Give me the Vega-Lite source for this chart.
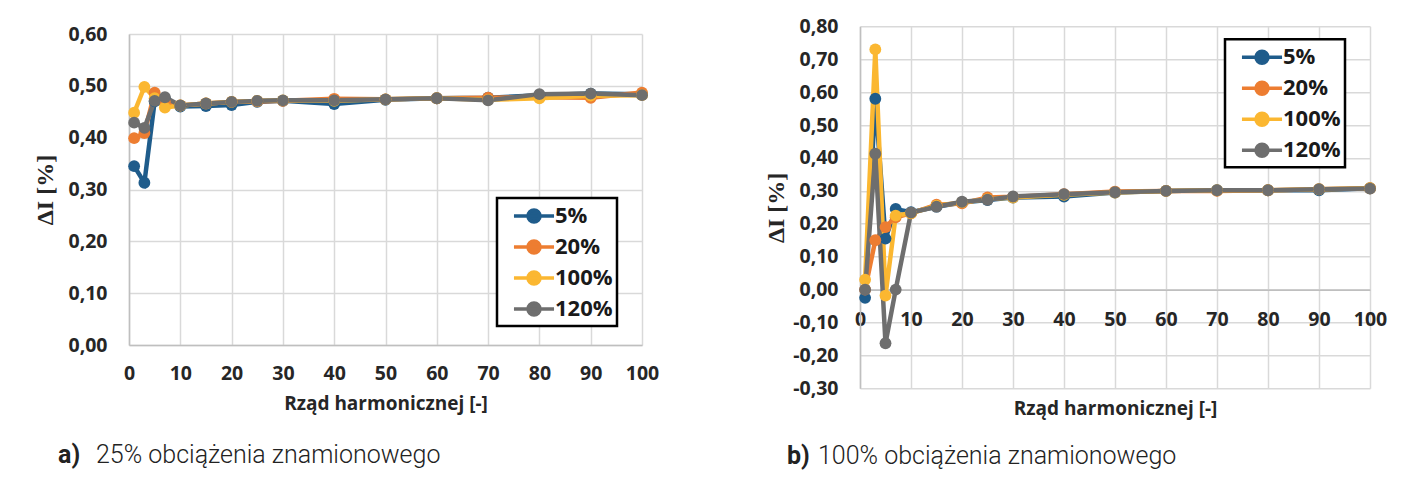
{
  "$schema": "https://vega.github.io/schema/vega-lite/v6.json",
  "background": "white",
  "padding": {"left": 33, "top": 16, "right": 5, "bottom": 5},
  "config": {
    "locale": {"number": {"decimal": ",", "thousands": " ", "grouping": [3], "currency": ["", ""], "minus": "-"}},
    "view": {"stroke": null},
    "axis": {
      "labelFont": "Open Sans", "labelFontWeight": "bold", "labelFontSize": 19.5, "labelColor": "#262626",
      "titleFont": "Open Sans", "titleFontWeight": "bold", "titleFontSize": 19, "titleColor": "#262626",
      "gridColor": "#d9d9d9", "gridWidth": 1.5, "domainColor": "#bfbfbf", "domainWidth": 1.5, "ticks": false
    },
    "legend": {
      "labelFont": "Open Sans", "labelFontWeight": "bold", "labelFontSize": 22, "labelColor": "#1a1a1a",
      "symbolType": "M-1.67,0L1.67,0M-0.5,0A0.5,0.5,0,1,1,0.5,0A0.5,0.5,0,1,1,-0.5,0Z",
      "symbolSize": 576, "symbolStrokeWidth": 3.5, "symbolOffset": 19, "labelOffset": 7,
      "fillColor": "white", "strokeColor": "black", "padding": 4, "rowPadding": 4
    },
    "title": {"font": "Roboto", "fontWeight": 300, "fontSize": 25, "color": "#222222", "anchor": "start"}
  },
  "datasets": {
    "a": [
      {"s": "5%", "h": 1, "v": 0.345}, {"s": "5%", "h": 3, "v": 0.313}, {"s": "5%", "h": 5, "v": 0.47}, {"s": "5%", "h": 7, "v": 0.475},
      {"s": "5%", "h": 10, "v": 0.46}, {"s": "5%", "h": 15, "v": 0.461}, {"s": "5%", "h": 20, "v": 0.463}, {"s": "5%", "h": 25, "v": 0.469},
      {"s": "5%", "h": 30, "v": 0.471}, {"s": "5%", "h": 40, "v": 0.465}, {"s": "5%", "h": 50, "v": 0.473}, {"s": "5%", "h": 60, "v": 0.476},
      {"s": "5%", "h": 70, "v": 0.477}, {"s": "5%", "h": 80, "v": 0.482}, {"s": "5%", "h": 90, "v": 0.485}, {"s": "5%", "h": 100, "v": 0.484},
      {"s": "20%", "h": 1, "v": 0.399}, {"s": "20%", "h": 3, "v": 0.409}, {"s": "20%", "h": 5, "v": 0.487}, {"s": "20%", "h": 7, "v": 0.47},
      {"s": "20%", "h": 10, "v": 0.462}, {"s": "20%", "h": 15, "v": 0.466}, {"s": "20%", "h": 20, "v": 0.469}, {"s": "20%", "h": 25, "v": 0.47},
      {"s": "20%", "h": 30, "v": 0.471}, {"s": "20%", "h": 40, "v": 0.475}, {"s": "20%", "h": 50, "v": 0.474}, {"s": "20%", "h": 60, "v": 0.476},
      {"s": "20%", "h": 70, "v": 0.477}, {"s": "20%", "h": 80, "v": 0.478}, {"s": "20%", "h": 90, "v": 0.477}, {"s": "20%", "h": 100, "v": 0.487},
      {"s": "100%", "h": 1, "v": 0.448}, {"s": "100%", "h": 3, "v": 0.498}, {"s": "100%", "h": 5, "v": 0.476}, {"s": "100%", "h": 7, "v": 0.458},
      {"s": "100%", "h": 10, "v": 0.462}, {"s": "100%", "h": 15, "v": 0.466}, {"s": "100%", "h": 20, "v": 0.469}, {"s": "100%", "h": 25, "v": 0.471},
      {"s": "100%", "h": 30, "v": 0.472}, {"s": "100%", "h": 40, "v": 0.471}, {"s": "100%", "h": 50, "v": 0.474}, {"s": "100%", "h": 60, "v": 0.476},
      {"s": "100%", "h": 70, "v": 0.473}, {"s": "100%", "h": 80, "v": 0.476}, {"s": "100%", "h": 90, "v": 0.481}, {"s": "100%", "h": 100, "v": 0.482},
      {"s": "120%", "h": 1, "v": 0.429}, {"s": "120%", "h": 3, "v": 0.419}, {"s": "120%", "h": 5, "v": 0.471}, {"s": "120%", "h": 7, "v": 0.478},
      {"s": "120%", "h": 10, "v": 0.462}, {"s": "120%", "h": 15, "v": 0.466}, {"s": "120%", "h": 20, "v": 0.469}, {"s": "120%", "h": 25, "v": 0.471},
      {"s": "120%", "h": 30, "v": 0.472}, {"s": "120%", "h": 40, "v": 0.472}, {"s": "120%", "h": 50, "v": 0.474}, {"s": "120%", "h": 60, "v": 0.476},
      {"s": "120%", "h": 70, "v": 0.472}, {"s": "120%", "h": 80, "v": 0.484}, {"s": "120%", "h": 90, "v": 0.485}, {"s": "120%", "h": 100, "v": 0.482}
    ],
    "b": [
      {"s": "5%", "h": 1, "v": -0.025}, {"s": "5%", "h": 3, "v": 0.58}, {"s": "5%", "h": 5, "v": 0.155}, {"s": "5%", "h": 7, "v": 0.245},
      {"s": "5%", "h": 10, "v": 0.235}, {"s": "5%", "h": 15, "v": 0.252}, {"s": "5%", "h": 20, "v": 0.265}, {"s": "5%", "h": 25, "v": 0.272},
      {"s": "5%", "h": 30, "v": 0.28}, {"s": "5%", "h": 40, "v": 0.283}, {"s": "5%", "h": 50, "v": 0.295}, {"s": "5%", "h": 60, "v": 0.3},
      {"s": "5%", "h": 70, "v": 0.302}, {"s": "5%", "h": 80, "v": 0.302}, {"s": "5%", "h": 90, "v": 0.302}, {"s": "5%", "h": 100, "v": 0.308},
      {"s": "20%", "h": 1, "v": 0.0}, {"s": "20%", "h": 3, "v": 0.15}, {"s": "20%", "h": 5, "v": 0.19}, {"s": "20%", "h": 7, "v": 0.22},
      {"s": "20%", "h": 10, "v": 0.232}, {"s": "20%", "h": 15, "v": 0.258}, {"s": "20%", "h": 20, "v": 0.262}, {"s": "20%", "h": 25, "v": 0.28},
      {"s": "20%", "h": 30, "v": 0.282}, {"s": "20%", "h": 40, "v": 0.29}, {"s": "20%", "h": 50, "v": 0.298}, {"s": "20%", "h": 60, "v": 0.3},
      {"s": "20%", "h": 70, "v": 0.3}, {"s": "20%", "h": 80, "v": 0.302}, {"s": "20%", "h": 90, "v": 0.305}, {"s": "20%", "h": 100, "v": 0.308},
      {"s": "100%", "h": 1, "v": 0.03}, {"s": "100%", "h": 3, "v": 0.73}, {"s": "100%", "h": 5, "v": -0.018}, {"s": "100%", "h": 7, "v": 0.225},
      {"s": "100%", "h": 10, "v": 0.232}, {"s": "100%", "h": 15, "v": 0.255}, {"s": "100%", "h": 20, "v": 0.265}, {"s": "100%", "h": 25, "v": 0.275},
      {"s": "100%", "h": 30, "v": 0.28}, {"s": "100%", "h": 40, "v": 0.288}, {"s": "100%", "h": 50, "v": 0.295}, {"s": "100%", "h": 60, "v": 0.3},
      {"s": "100%", "h": 70, "v": 0.302}, {"s": "100%", "h": 80, "v": 0.302}, {"s": "100%", "h": 90, "v": 0.305}, {"s": "100%", "h": 100, "v": 0.308},
      {"s": "120%", "h": 1, "v": 0.0}, {"s": "120%", "h": 3, "v": 0.413}, {"s": "120%", "h": 5, "v": -0.163}, {"s": "120%", "h": 7, "v": 0.0},
      {"s": "120%", "h": 10, "v": 0.234}, {"s": "120%", "h": 15, "v": 0.252}, {"s": "120%", "h": 20, "v": 0.267}, {"s": "120%", "h": 25, "v": 0.273},
      {"s": "120%", "h": 30, "v": 0.283}, {"s": "120%", "h": 40, "v": 0.29}, {"s": "120%", "h": 50, "v": 0.296}, {"s": "120%", "h": 60, "v": 0.3},
      {"s": "120%", "h": 70, "v": 0.302}, {"s": "120%", "h": 80, "v": 0.302}, {"s": "120%", "h": 90, "v": 0.305}, {"s": "120%", "h": 100, "v": 0.307}
    ]
  },
  "resolve": {"legend": {"color": "independent"}},
  "center": true,
  "spacing": 105,
  "hconcat": [
    {
      "title": {"text": "25% obciążenia znamionowego", "orient": "bottom", "frame": "group", "dx": -33, "offset": -25},
      "resolve": {"legend": {"color": "independent"}},
      "vconcat": [
        {
          "data": {"name": "a"},
          "width": 513,
          "height": 311,
          "title": {"text": "a)", "orient": "bottom", "fontWeight": "bold", "frame": "group", "dx": -71, "offset": 30},
          "mark": {"type": "line", "strokeWidth": 4.5, "point": {"filled": true, "size": 140}},
          "encoding": {
            "x": {"field": "h", "type": "quantitative", "scale": {"domain": [0, 100], "nice": false},
              "axis": {"values": [0, 10, 20, 30, 40, 50, 60, 70, 80, 90, 100], "format": "d", "labelPadding": 19, "labelFlush": false,
                "title": "Rząd harmonicznej [-]", "titleBaseline": "middle", "titleY": 58}},
            "y": {"field": "v", "type": "quantitative", "scale": {"domain": [0, 0.6], "nice": false, "zero": false},
              "axis": {"values": [0, 0.1, 0.2, 0.3, 0.4, 0.5, 0.6], "format": ".2f", "labelPadding": 22,
                "title": "ΔI [%]", "titleFont": "Liberation Serif", "titleFontSize": 24, "titlePadding": 10}},
            "color": {"field": "s", "type": "nominal",
              "scale": {"domain": ["5%", "20%", "100%", "120%"], "range": ["#1F5C8B", "#ED7D31", "#FBB731", "#6E6E6E"]},
              "legend": {"title": null, "orient": "none", "legendX": 368, "legendY": 164,
                "encode": {"legend": {"update": {"strokeWidth": {"value": 2.5}}},
                  "symbols": {"update": {"fill": {"scale": "color", "field": "value"}}}}}}
          }
        }
      ]
    },
    {
      "title": {"text": " ", "orient": "bottom", "fontSize": 7, "offset": 0},
      "resolve": {"legend": {"color": "independent"}},
      "vconcat": [
        {
          "title": {"text": "100% obciążenia znamionowego", "orient": "bottom", "frame": "group", "dx": -42, "offset": -25},
          "resolve": {"legend": {"color": "independent"}},
          "vconcat": [
            {
              "data": {"name": "b"},
              "width": 510,
              "height": 362,
              "title": {"text": "b)", "orient": "bottom", "fontWeight": "bold", "frame": "group", "dx": -73, "offset": 25},
              "mark": {"type": "line", "strokeWidth": 4.5, "point": {"filled": true, "size": 140}},
              "encoding": {
                "x": {"field": "h", "type": "quantitative", "scale": {"domain": [0, 100], "nice": false},
                  "axis": {"values": [0, 10, 20, 30, 40, 50, 60, 70, 80, 90, 100], "format": "d", "labelPadding": 21, "offset": -98.7, "labelFlush": false,
                    "title": "Rząd harmonicznej [-]", "titleBaseline": "middle", "titleY": 119}},
                "y": {"field": "v", "type": "quantitative", "scale": {"domain": [-0.3, 0.8], "nice": false, "zero": false},
                  "axis": {"values": [-0.3, -0.2, -0.1, 0, 0.1, 0.2, 0.3, 0.4, 0.5, 0.6, 0.7, 0.8], "format": ".2f", "labelPadding": 22,
                    "title": "ΔI [%]", "titleFont": "Liberation Serif", "titleFontSize": 24, "titlePadding": 4}},
                "color": {"field": "s", "type": "nominal",
                  "scale": {"domain": ["5%", "20%", "100%", "120%"], "range": ["#1F5C8B", "#ED7D31", "#FBB731", "#6E6E6E"]},
                  "legend": {"title": null, "orient": "none", "legendX": 365, "legendY": 13,
                    "encode": {"legend": {"update": {"strokeWidth": {"value": 2.5}}},
                      "symbols": {"update": {"fill": {"scale": "color", "field": "value"}}}}}}
              }
            }
          ]
        }
      ]
    }
  ]
}
